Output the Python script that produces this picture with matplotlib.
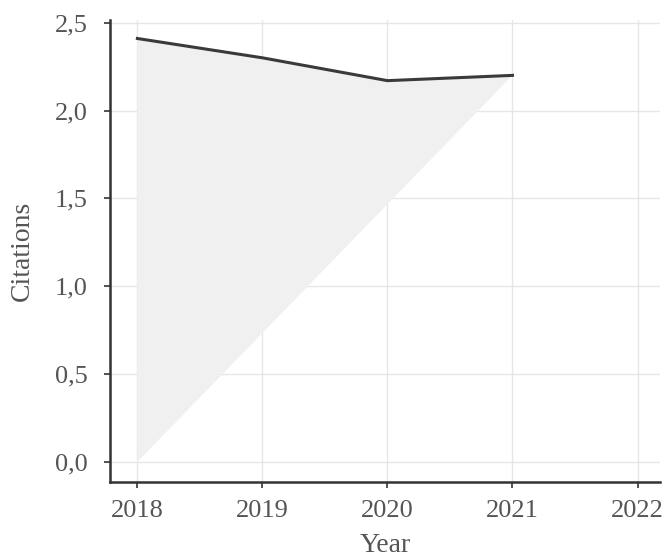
import matplotlib
matplotlib.use("Agg")
import matplotlib.pyplot as plt

years = [2018, 2019, 2020, 2021]
citations = [2.41, 2.30, 2.17, 2.20]
xticks = [2018, 2019, 2020, 2021, 2022]
yticks = [0.0, 0.5, 1.0, 1.5, 2.0, 2.5]
ytick_labels = ["0,0", "0,5", "1,0", "1,5", "2,0", "2,5"]

plt.rcParams["font.family"] = ["Liberation Serif", "DejaVu Serif"]

fig = plt.figure(figsize=(6.66, 5.57), dpi=100)
ax = fig.add_axes([0.165, 0.135, 0.826, 0.829])

# shaded area: line closed back to the first year at zero
fill_x = [years[0]] + years
fill_y = [0.0] + citations
ax.fill(fill_x, fill_y, color="#f0f0f0", zorder=1, linewidth=0)
ax.plot(years, citations, color="#3a3a3a", linewidth=2.2, zorder=3)

ax.set_xlim(2017.78, 2022.18)
ax.set_ylim(-0.114, 2.515)
ax.set_xticks(xticks)
ax.set_yticks(yticks)
ax.set_yticklabels(ytick_labels)
ax.grid(True, color="#e6e6e6", linewidth=1.0, zorder=0)
ax.set_axisbelow(True)

for s in ["top", "right"]:
    ax.spines[s].set_visible(False)
for s in ["left", "bottom"]:
    ax.spines[s].set_color("#333333")
    ax.spines[s].set_linewidth(1.8)

ax.tick_params(axis="both", colors="#333333", length=4, width=1.2,
               labelsize=19, labelcolor="#555555")
ax.tick_params(axis="x", pad=9)
ax.tick_params(axis="y", pad=12)
ax.set_xlabel("Year", fontsize=20, color="#555555", labelpad=8)
ax.set_ylabel("Citations", fontsize=20, color="#555555", labelpad=14)

fig.savefig("out.png", dpi=100)
